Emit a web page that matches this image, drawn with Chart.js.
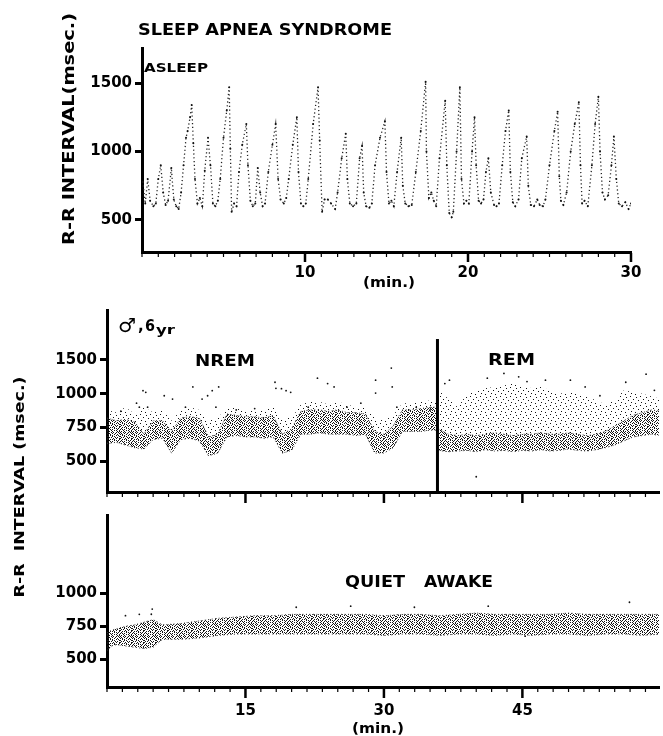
<!DOCTYPE html>
<html><head><meta charset="utf-8">
<script src="https://cdn.jsdelivr.net/npm/chart.js@4.4.1/dist/chart.umd.min.js"></script>
<style>
html,body{margin:0;padding:0;background:#fff;overflow:hidden;width:663px;height:736px}
canvas{position:absolute;left:0;top:0}
</style></head><body>
<canvas id="cA" width="663" height="736"></canvas>
<canvas id="cB" width="663" height="736"></canvas>
<canvas id="cC" width="663" height="736"></canvas>
<script>
// ---------- DATA ----------
// Top panel: sleep apnea syndrome, asleep (minute, R-R msec)
const apneaBeats = [[0.05,780],[0.2,620],[0.35,800],[0.5,640],[0.7,600],[0.85,620],[1.0,800],[1.15,900],[1.3,700],[1.45,610],[1.6,640],[1.8,880],[1.95,650],[2.1,600],[2.25,580],[2.4,700],[2.55,900],[2.7,1100],[2.8,1150],[2.95,1250],[3.05,1340],[3.15,1060],[3.25,800],[3.4,620],[3.55,660],[3.7,600],[3.85,860],[4.05,1100],[4.2,900],[4.35,620],[4.5,600],[4.65,640],[4.8,800],[5.0,1100],[5.2,1300],[5.35,1470],[5.42,1020],[5.5,560],[5.65,620],[5.8,600],[5.95,850],[6.15,1050],[6.4,1200],[6.5,900],[6.65,640],[6.8,600],[6.95,620],[7.1,880],[7.25,700],[7.4,600],[7.55,620],[7.75,850],[8.0,1050],[8.2,1200],[8.35,800],[8.5,650],[8.7,620],[8.85,660],[9.0,800],[9.25,1050],[9.5,1250],[9.6,850],[9.75,620],[9.9,600],[10.05,620],[10.2,800],[10.5,1200],[10.8,1470],[10.9,1080],[11.05,560],[11.2,650],[11.4,650],[11.6,620],[11.85,580],[12.0,700],[12.25,950],[12.5,1130],[12.6,800],[12.75,620],[12.95,600],[13.15,620],[13.35,950],[13.5,1040],[13.6,700],[13.75,600],[13.95,590],[14.1,620],[14.3,900],[14.6,1100],[14.9,1220],[15.0,850],[15.15,620],[15.3,640],[15.45,600],[15.65,850],[15.9,1100],[16.0,750],[16.15,620],[16.35,600],[16.55,610],[16.8,850],[17.1,1150],[17.4,1510],[17.45,1000],[17.6,660],[17.75,700],[17.9,640],[18.05,600],[18.25,950],[18.6,1370],[18.7,900],[18.85,550],[19.0,520],[19.1,560],[19.3,1000],[19.5,1470],[19.6,800],[19.75,620],[19.9,640],[20.05,620],[20.25,1000],[20.4,1250],[20.5,900],[20.65,640],[20.8,620],[20.95,650],[21.1,850],[21.25,950],[21.4,700],[21.6,610],[21.75,600],[21.9,620],[22.1,900],[22.3,1150],[22.5,1300],[22.6,850],[22.75,630],[22.9,600],[23.1,650],[23.3,950],[23.6,1110],[23.7,750],[23.85,610],[24.05,600],[24.25,650],[24.4,610],[24.6,600],[24.75,650],[25.0,900],[25.3,1150],[25.5,1290],[25.6,820],[25.7,640],[25.85,610],[26.05,700],[26.3,1000],[26.55,1200],[26.8,1360],[26.9,900],[27.0,620],[27.15,640],[27.35,600],[27.6,900],[27.8,1200],[28.0,1400],[28.1,1000],[28.25,700],[28.4,650],[28.6,680],[28.8,900],[28.95,1110],[29.1,800],[29.25,620],[29.45,600],[29.65,630],[29.85,580],[30.0,620]];
const apneaYTicks = [500, 1000, 1500];
const apneaXTicks = [10, 20, 30];

// Middle panel: boy, 6 yr, NREM then REM (band edges, msec)
const nremMin    = [0,1,2,3,4,5,6,7,8,9,10,11,12,13,14,15,16,17,18,19,20,21,22,23,24,25,26,27,28,29,30,31,32,33,34,35,35.8];
const nremLow    = [630,640,620,600,590,660,670,560,660,670,650,540,560,680,690,680,680,670,680,560,580,700,700,710,700,700,700,690,700,560,560,600,720,720,720,730,730];
const nremHigh   = [820,800,810,790,700,800,800,720,820,830,820,680,700,850,840,830,830,820,840,700,740,870,880,880,870,880,860,860,850,720,700,760,880,880,890,900,900];
const nremSparse = [880,860,900,850,900,860,880,800,880,900,880,800,820,900,900,880,880,880,900,820,820,920,940,940,920,940,920,900,900,820,800,840,930,930,940,950,950];
const remMin     = [35.9,37,38,39,40,41,42,43,44,45,46,47,48,49,50,51,52,53,54,55,56,57,58,59,60];
const remLow     = [580,570,575,580,570,585,575,580,570,580,575,585,575,580,590,580,575,585,600,620,650,680,690,700,690];
const remHigh    = [740,700,690,700,690,700,710,700,690,700,700,710,700,700,710,700,690,700,720,760,800,840,860,880,870];
const remSparse  = [1050,960,900,1000,1050,1080,1100,1120,1150,1120,1080,1100,1050,1000,1020,1000,980,950,920,950,1050,1020,1000,980,960];
const nremSpikes = [[1.5,870],[3.2,930],[3.5,900],[3.9,1045],[4.2,1020],[4.4,900],[6.2,985],[7.1,960],[8.5,900],[9.3,1100],[10.3,960],[10.9,985],[11.4,1045],[11.8,900],[12.1,1100],[14.0,880],[16.0,890],[18.2,1170],[18.3,1080],[18.9,1075],[19.4,1045],[19.9,1020],[21.8,900],[22.8,1230],[23.9,1150],[24.6,1100],[26.0,900],[27.5,930],[29.1,1200],[29.1,1010],[30.8,1380],[30.9,1100],[31.4,900],[33.5,900],[35.0,880]];
const remSpikes  = [[36.6,1150],[37.1,1200],[40.0,385],[41.2,1230],[43.0,1300],[44.6,1250],[45.5,1180],[47.5,1200],[50.2,1200],[51.8,1100],[53.4,985],[56.2,1170],[58.4,1290],[59.3,1050]];
const remStartMin = 35.8;
const sleepYTicks = [500, 750, 1000, 1500];

// Bottom panel: quiet awake (band edges, msec)
const awakeMin   = [0,0.5,1,2,3,4,5,6,8,10,12,14,16,18,20,22,24,26,28,30,32,34,36,38,40,42,44,46,48,50,52,54,56,58,60];
const awakeLow   = [560,600,610,600,590,580,590,650,650,660,680,690,690,690,690,690,690,690,690,680,690,690,680,690,690,680,690,680,690,690,680,690,690,680,690];
const awakeHigh  = [700,720,730,750,760,780,800,760,770,790,810,820,830,830,840,840,840,840,840,830,840,840,830,840,850,840,840,840,840,850,840,840,840,840,840];
const awakeSpikes = [[2.0,830],[3.5,840],[4.8,841],[4.9,880],[20.5,894],[26.4,902],[33.3,894],[41.3,902],[45.3,674],[56.6,932]];
const awakeYTicks = [500, 750, 1000];
const minuteTicks = [15, 30, 45];

// ---------- SETUP ----------
Chart.defaults.font.family = "'DejaVu Sans', sans-serif";
Chart.defaults.font.weight = 'bold';
Chart.defaults.color = '#000';

// Piecewise y-scale (equal spacing between 500,750,1000,1500 as in the original figure)
const RR_KNOTS = [[500,0],[750,1],[1000,2],[1500,3]];
function rrToUnit(v){
  const k = RR_KNOTS;
  let i = 0;
  if (v <= k[1][0]) i = 0; else if (v >= k[k.length-2][0]) i = k.length-2;
  else { for (i=0;i<k.length-1;i++){ if (v <= k[i+1][0]) break; } }
  const [v0,u0] = k[i], [v1,u1] = k[i+1];
  return u0 + (v - v0) / (v1 - v0) * (u1 - u0);
}
function unitToRR(u){
  const k = RR_KNOTS;
  let i = 0;
  if (u <= 1) i = 0; else if (u >= k.length-2) i = k.length-2; else i = Math.floor(u);
  const [v0,u0] = k[i], [v1,u1] = k[i+1];
  return v0 + (u - u0) / (u1 - u0) * (v1 - v0);
}
class RRScale extends Chart.LinearScale {
  getPixelForValue(value){
    if (value === null || value === undefined || isNaN(value)) return NaN;
    const a = rrToUnit(this.min), b = rrToUnit(this.max);
    return this.getPixelForDecimal((rrToUnit(value) - a) / (b - a));
  }
  getValueForPixel(pixel){
    const a = rrToUnit(this.min), b = rrToUnit(this.max);
    return unitToRR(a + this.getDecimalForPixel(pixel) * (b - a));
  }
}
RRScale.id = 'rrPiecewise';
RRScale.defaults = Chart.LinearScale.defaults;
Chart.register(RRScale);

function dotPattern(rows, color){
  const c = document.createElement('canvas');
  c.width = rows[0].length; c.height = rows.length;
  const g = c.getContext('2d'); g.fillStyle = color;
  rows.forEach((r,y)=>{ [...r].forEach((ch,x)=>{ if (ch === 'x') g.fillRect(x,y,1,1); }); });
  return g.createPattern(c, 'repeat');
}
const DENSE = dotPattern([
  "x..x.x..x.x.",
  ".x..x..x...x",
  "x.x...x..x..",
  "..x.x...x.x.",
  "x...x.x....x",
  ".x.x...x.x..",
  "x....x..x..x",
  "..x.x.x....x",
  ".x....x.x.x.",
  "x.x.x....x..",
  "...x..x.x..x",
  ".x..x....x.x"], '#151515');
const SPARSE = dotPattern([
  "x.........",
  "......x...",
  "..........",
  "...x......",
  "........x.",
  "..........",
  ".x........",
  ".....x....",
  ".........."], '#111');

function pts(xs, ys){ return xs.map((x,i)=>({x, y: ys[i]})); }
function pairPts(p){ return p.map(([x,y])=>({x,y})); }

function fitText(ctx, text, x, y, font, width, align, rot){
  ctx.save();
  ctx.font = font; ctx.fillStyle = '#000';
  ctx.textAlign = align || 'left';
  ctx.textBaseline = rot ? 'middle' : 'alphabetic';
  ctx.translate(x, y);
  if (rot) ctx.rotate(rot);
  if (width){ const w = ctx.measureText(text).width; ctx.scale(width / w, 1); }
  ctx.fillText(text, 0, 0);
  ctx.restore();
}
function drawXTicks(chart, step, max, majors, majorLen){
  const ctx = chart.ctx, xs = chart.scales.x, b = chart.chartArea.bottom;
  ctx.save(); ctx.strokeStyle = '#000';
  for (let k = 0; k * step <= max + 1e-6; k++){
    const v = k * step;
    const isMajor = majors.some(m => Math.abs(m - v) < 1e-6);
    const x = xs.getPixelForValue(v);
    ctx.lineWidth = isMajor ? 2.5 : 1.2;
    ctx.beginPath(); ctx.moveTo(x, b + 1); ctx.lineTo(x, b + 1 + (isMajor ? majorLen : 4)); ctx.stroke();
  }
  ctx.restore();
}

function yAxisOpts(min, max, width, tickList, type){
  return {
    type: type || 'linear', min, max, bounds: 'data',
    afterFit: s => { s.width = width; },
    afterBuildTicks: s => { s.ticks = tickList.map(v => ({value: v})); },
    ticks: {font: {size: 15, weight: 'bold'}, padding: 3, callback: v => String(v)},
    grid: {display: true, drawOnChartArea: false, drawTicks: true, tickLength: 7, tickWidth: 3, tickColor: '#000'},
    border: {display: true, width: 3, color: '#000'}
  };
}
function xAxisOpts(max, height, tickList, pad){
  return {
    type: 'linear', min: 0, max, bounds: 'data',
    afterFit: s => { s.height = height; },
    afterBuildTicks: s => { s.ticks = tickList.map(v => ({value: v})); },
    ticks: {display: tickList.length > 0, font: {size: 15, weight: 'bold'}, padding: pad, autoSkip: false, maxRotation: 0, callback: v => String(v)},
    grid: {display: false, drawTicks: false},
    border: {display: true, width: 3, color: '#000'}
  };
}
const common = {responsive: false, animation: false, devicePixelRatio: 1, events: [],
  plugins: {legend: {display: false}, tooltip: {enabled: false}}};
const edge = {borderColor: '#333', borderWidth: 1, borderDash: [1, 2.5], pointRadius: 0};

// ---------- TOP CHART ----------
new Chart(document.getElementById('cA'), {
  type: 'line',
  data: {datasets: [{
    data: pairPts(apneaBeats), borderColor: '#222', borderWidth: 1.3,
    borderDash: [1.2, 2.6], pointRadius: 1, pointBorderWidth: 0, pointBackgroundColor: '#111',
    tension: 0, fill: false
  }]},
  options: Object.assign({}, common, {
    layout: {padding: {left: 0, top: 48, right: 32, bottom: 444}},
    scales: {
      x: xAxisOpts(30, 40, apneaXTicks, 12),
      y: yAxisOpts(266, 1756, 142, apneaYTicks)
    }
  }),
  plugins: [{
    id: 'annotA',
    afterDraw(chart){
      const ctx = chart.ctx;
      drawXTicks(chart, 1, 30, [10, 20, 30], 9);
      fitText(ctx, 'SLEEP APNEA SYNDROME', 138, 35, 'bold 16px "DejaVu Sans"', 254);
      fitText(ctx, 'ASLEEP', 144, 72, 'bold 13px "DejaVu Sans"', 64);
      fitText(ctx, 'R-R INTERVAL(msec.)', 70, 129, 'bold 16px "DejaVu Sans"', 232, 'center', -Math.PI/2);
      fitText(ctx, '(min.)', 389, 287, 'bold 14px "DejaVu Sans"', 52, 'center');
    }
  }]
});

// ---------- MIDDLE CHART ----------
new Chart(document.getElementById('cB'), {
  type: 'line',
  data: {datasets: [
    Object.assign({data: pts(nremMin, nremLow), fill: false}, edge),
    Object.assign({data: pts(nremMin, nremHigh), fill: '-1', backgroundColor: DENSE}, edge),
    Object.assign({data: pts(nremMin, nremSparse), fill: '-1', backgroundColor: SPARSE}, edge, {borderWidth: 0}),
    Object.assign({data: pts(remMin, remLow), fill: false}, edge),
    Object.assign({data: pts(remMin, remHigh), fill: '-1', backgroundColor: DENSE}, edge),
    Object.assign({data: pts(remMin, remSparse), fill: '-1', backgroundColor: SPARSE}, edge, {borderWidth: 0}),
    {data: pairPts(nremSpikes), showLine: false, pointRadius: 0.9, pointBorderWidth: 0, pointBackgroundColor: '#111'},
    {data: pairPts(remSpikes), showLine: false, pointRadius: 0.9, pointBorderWidth: 0, pointBackgroundColor: '#111'}
  ]},
  options: Object.assign({}, common, {
    layout: {padding: {left: 0, top: 310, right: 0, bottom: 234}},
    scales: {
      x: xAxisOpts(59.8, 10, [], 0),
      y: yAxisOpts(272, 2240, 107, sleepYTicks, 'rrPiecewise')
    }
  }),
  plugins: [{
    id: 'annotB',
    afterDraw(chart){
      const ctx = chart.ctx, xs = chart.scales.x, ys = chart.scales.y;
      drawXTicks(chart, 15/9, 59.8, minuteTicks, 10);
      const xr = xs.getPixelForValue(remStartMin);
      ctx.save(); ctx.strokeStyle = '#000'; ctx.lineWidth = 3;
      ctx.beginPath(); ctx.moveTo(xr, ys.getPixelForValue(1810)); ctx.lineTo(xr, chart.chartArea.bottom); ctx.stroke();
      ctx.restore();
      fitText(ctx, '\u2642', 118, 332, 'bold 19px "DejaVu Sans"', 18);
      fitText(ctx, ',', 138, 331, 'bold 15px "DejaVu Sans"');
      fitText(ctx, '6', 145, 331, 'bold 15px "DejaVu Sans"', 10);
      fitText(ctx, 'yr', 156, 334, 'bold 13px "DejaVu Sans"', 19);
      fitText(ctx, 'NREM', 195, 366, 'bold 15px "DejaVu Sans"', 60);
      fitText(ctx, 'REM', 488, 365, 'bold 15px "DejaVu Sans"', 47);
    }
  }]
});

// ---------- BOTTOM CHART ----------
new Chart(document.getElementById('cC'), {
  type: 'line',
  data: {datasets: [
    Object.assign({data: pts(awakeMin, awakeLow), fill: false}, edge),
    Object.assign({data: pts(awakeMin, awakeHigh), fill: '-1', backgroundColor: DENSE}, edge),
    {data: pairPts(awakeSpikes), showLine: false, pointRadius: 0.9, pointBorderWidth: 0, pointBackgroundColor: '#111'}
  ]},
  options: Object.assign({}, common, {
    layout: {padding: {left: 0, top: 515, right: 0, bottom: 0}},
    scales: {
      x: xAxisOpts(59.8, 49, minuteTicks, 15),
      y: yAxisOpts(288, 1595, 107, awakeYTicks)
    }
  }),
  plugins: [{
    id: 'annotC',
    afterDraw(chart){
      const ctx = chart.ctx;
      drawXTicks(chart, 15/9, 59.8, minuteTicks, 10);
      fitText(ctx, 'QUIET', 345, 587, 'bold 15px "DejaVu Sans"', 60);
      fitText(ctx, 'AWAKE', 424, 587, 'bold 15px "DejaVu Sans"', 69);
      fitText(ctx, 'R-R  INTERVAL (msec.)', 20, 487, 'bold 14px "DejaVu Sans"', 221, 'center', -Math.PI/2);
      fitText(ctx, '(min.)', 378, 733, 'bold 14px "DejaVu Sans"', 52, 'center');
    }
  }]
});
</script></body></html>
